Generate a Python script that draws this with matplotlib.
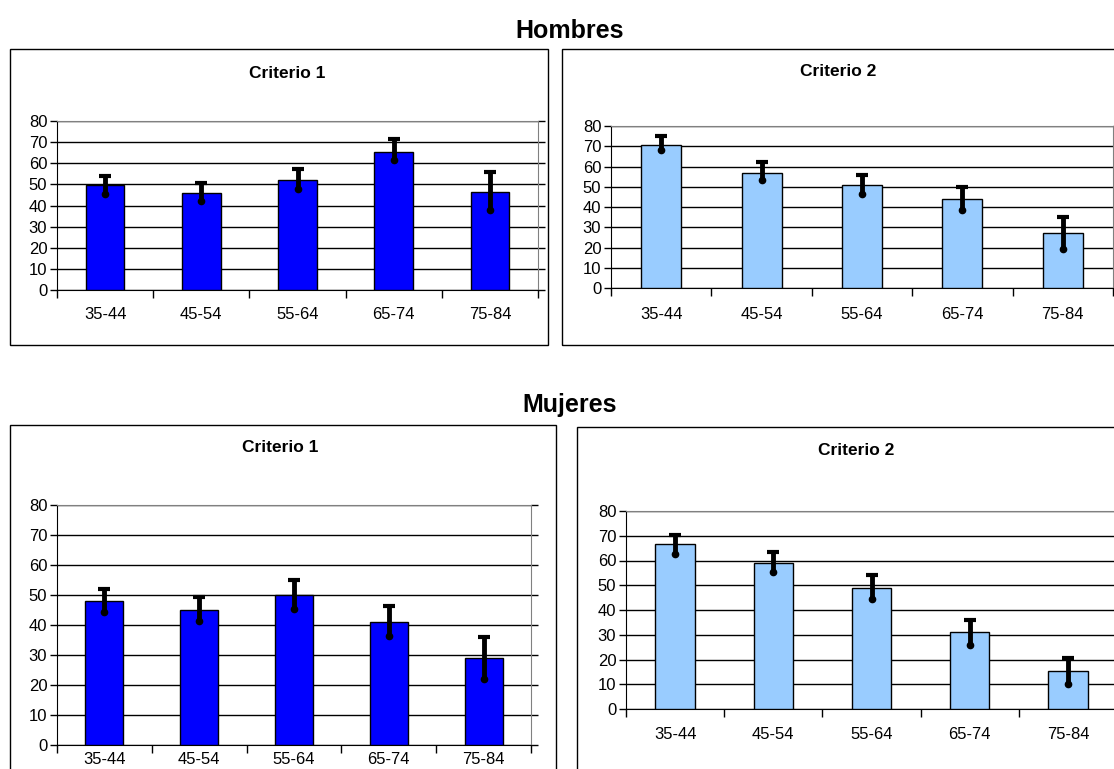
import matplotlib.pyplot as plt
from matplotlib.patches import Rectangle
import numpy as np

plt.rcParams['font.family'] = ['Liberation Sans', 'DejaVu Sans']

# data
ages = ['35-44', '45-54', '55-64', '65-74', '75-84']

h_c1 = [49.5, 46, 52, 65.5, 46.5]
h_c1_lo = [45.5, 42, 48, 61.5, 38]
h_c1_hi = [54, 50.5, 57.5, 71.5, 56]

h_c2 = [70.5, 57, 51, 44, 27]
h_c2_lo = [68, 53.5, 46.5, 38.5, 19.5]
h_c2_hi = [75, 62, 56, 50, 35]

m_c1 = [48, 45, 50, 41, 29]
m_c1_lo = [44.5, 41.5, 45.5, 36.5, 22]
m_c1_hi = [52, 49.5, 55, 46.5, 36]

m_c2 = [66.5, 59, 49, 31, 15.5]
m_c2_lo = [62.5, 55.5, 44.5, 26, 10]
m_c2_hi = [70.5, 63.5, 54, 36, 20.5]

W, H = 1114, 769
fig = plt.figure(figsize=(W / 100, H / 100), dpi=100)


def px_box(x0, y0, x1, y1):
    # pixel coords (top-left origin) -> figure fraction rect
    return [x0 / W, 1 - y1 / H, (x1 - x0) / W, (y1 - y0) / H]


def panel(ax_rect, vals, lo, hi, color, title, title_xy, xpad):
    ax = fig.add_axes(px_box(*ax_rect))
    x = np.arange(len(ages))
    ax.bar(x, vals, width=0.4, color=color, edgecolor='black', linewidth=1, zorder=3)
    vals = np.array(vals)
    ax.errorbar(x, vals, yerr=[vals - np.array(lo), np.array(hi) - vals],
                fmt='none', ecolor='black', elinewidth=3.5, capsize=0, zorder=4)
    ax.plot(x, hi, '_', color='black', ms=8, mew=3, zorder=5)
    ax.plot(x, lo, 'o', color='black', ms=4.5, zorder=5)
    ax.set_xlim(-0.5, len(ages) - 0.5)
    ax.set_ylim(0, 80)
    ax.set_yticks(range(0, 81, 10))
    ax.set_xticks(np.arange(-0.5, len(ages)), minor=False)
    ax.set_xticklabels([])
    ax.set_xticks(x, minor=True)
    ax.set_xticklabels(ages, minor=True, fontsize=12)
    ax.tick_params(axis='x', which='minor', length=0, pad=xpad)
    ax.tick_params(axis='x', which='major', direction='out', length=6, width=1)
    ax.tick_params(axis='y', direction='out', length=5, width=1, labelsize=12,
                   right=True, pad=2)
    ax.grid(axis='y', color='black', linewidth=1, zorder=0)
    for s in ['top', 'right']:
        ax.spines[s].set_color('#808080')
    fig.text(title_xy[0] / W, 1 - title_xy[1] / H, title, ha='center', va='center',
             fontsize=12.5, fontweight='bold')
    return ax


# panel borders
for (x0, y0, x1, y1) in [(10, 49, 548, 345), (562, 49, 1130, 345),
                         (10, 425, 556, 780), (577, 427, 1130, 780)]:
    fig.add_artist(Rectangle((x0 / W, 1 - y1 / H), (x1 - x0) / W, (y1 - y0) / H,
                             transform=fig.transFigure, fill=False,
                             edgecolor='black', linewidth=1))

panel((57, 121, 538, 290), h_c1, h_c1_lo, h_c1_hi, '#0000FF', 'Criterio 1', (287, 73), 12)
panel((611, 126, 1113, 288), h_c2, h_c2_lo, h_c2_hi, '#99CCFF', 'Criterio 2', (838, 72), 14)
panel((57, 505, 531, 745), m_c1, m_c1_lo, m_c1_hi, '#0000FF', 'Criterio 1', (280, 447), 5)
panel((626, 511, 1117, 709), m_c2, m_c2_lo, m_c2_hi, '#99CCFF', 'Criterio 2', (856, 450), 13)

fig.text(570 / W, 1 - 31 / H, 'Hombres', ha='center', va='center', fontsize=18, fontweight='bold')
fig.text(570 / W, 1 - 405 / H, 'Mujeres', ha='center', va='center', fontsize=18, fontweight='bold')

fig.savefig('out.png', dpi=100)
